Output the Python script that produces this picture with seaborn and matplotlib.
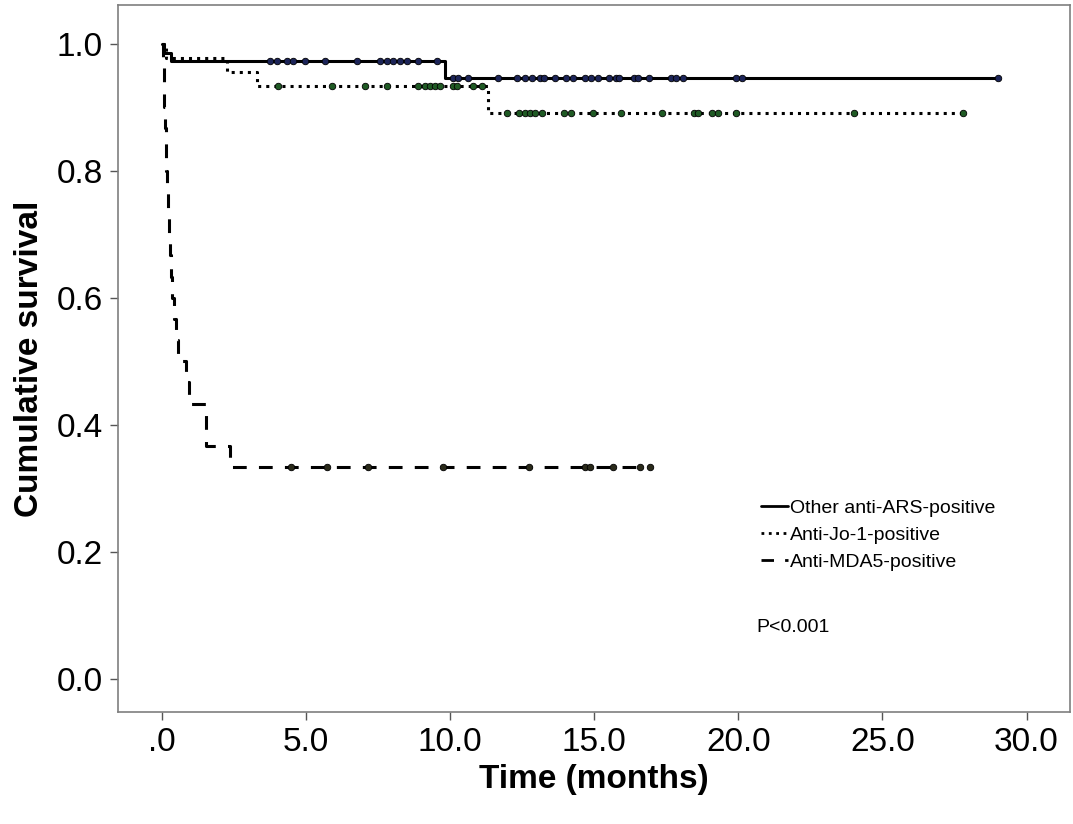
import matplotlib
matplotlib.use("Agg")
import matplotlib.pyplot as plt
from matplotlib.lines import Line2D
import numpy as np
import pandas as pd
import seaborn as sns

sns.set_style("white")
plt.rcParams['font.family'] = ['Liberation Sans', 'DejaVu Sans']
plt.rcParams['text.color'] = 'black'
plt.rcParams['axes.labelcolor'] = 'black'
plt.rcParams['xtick.color'] = 'black'
plt.rcParams['ytick.color'] = 'black'

# Kaplan-Meier steps (time in months, survival after event)
ars_times = [0.0, 0.05, 0.3, 9.8]
ars_surv = [1.0, 0.986, 0.972, 0.946]
ars_end = 29.0
ars_censor = [3.75, 4.0, 4.34, 4.55, 4.97, 5.66, 6.77, 7.57, 7.81, 8.02, 8.26, 8.51, 8.89, 9.55,
              10.1, 10.28, 10.63, 11.67, 12.33, 12.6, 12.85, 13.1, 13.26, 13.65, 14.03, 14.27,
              14.69, 14.9, 15.14, 15.52, 15.76, 15.87, 16.39, 16.5, 16.88, 17.67, 17.85, 18.06,
              19.9, 20.14, 29.0]

jo1_times = [0.0, 0.12, 2.26, 3.3, 11.3]
jo1_surv = [1.0, 0.978, 0.956, 0.933, 0.891]
jo1_end = 27.8
jo1_censor = [4.03, 5.9, 7.05, 7.81, 8.89, 9.13, 9.3, 9.48, 9.65, 10.1, 10.24, 10.8, 11.1,
              11.98, 12.4, 12.6, 12.78, 12.95, 13.2, 13.96, 14.2, 14.95, 15.94, 17.36, 18.47,
              18.6, 19.1, 19.3, 19.9, 24.0, 27.8]

mda5_times = [0.0, 0.03, 0.05, 0.08, 0.1, 0.12, 0.15, 0.18, 0.2, 0.23, 0.27, 0.3, 0.35, 0.42,
              0.48, 0.55, 0.83, 0.94, 1.53, 2.36]
mda5_surv = [1.0, 0.967, 0.933, 0.9, 0.867, 0.833, 0.8, 0.767, 0.733, 0.7, 0.667, 0.633, 0.6,
             0.567, 0.533, 0.5, 0.467, 0.433, 0.367, 0.333]
mda5_end = 16.94
mda5_censor = [4.48, 5.73, 7.15, 9.76, 12.74, 14.69, 14.86, 15.66, 16.6, 16.94]

groups = ['Other anti-ARS-positive', 'Anti-Jo-1-positive', 'Anti-MDA5-positive']
x_ticks = [0, 5, 10, 15, 20, 25, 30]
x_tick_labels = ['.0', '5.0', '10.0', '15.0', '20.0', '25.0', '30.0']
y_ticks = [0.0, 0.2, 0.4, 0.6, 0.8, 1.0]


def step_value(times, surv, t):
    i = np.searchsorted(times, t, side='right') - 1
    return np.asarray(surv)[i]


fig = plt.figure(figsize=(10.73, 8.24), dpi=100)
ax = fig.add_axes([0.11, 0.136, 0.887, 0.858])

styles = [
    (ars_times, ars_surv, ars_end, ars_censor, '-', '#1c2458'),
    (jo1_times, jo1_surv, jo1_end, jo1_censor, ':', '#1f5a24'),
    (mda5_times, mda5_surv, mda5_end, mda5_censor, (0, (4.5, 4)), '#2a2a1a'),
]

for name, (times, surv, end, cens, ls, mcol) in zip(groups, styles):
    line_df = pd.DataFrame({'time': list(times) + [end], 'surv': list(surv) + [surv[-1]]})
    sns.lineplot(data=line_df, x='time', y='surv', ax=ax, estimator=None, sort=False,
                 drawstyle='steps-post', color='black', linewidth=2.2, linestyle=ls)
    cens_df = pd.DataFrame({'time': cens, 'surv': [step_value(times, surv, t) for t in cens]})
    sns.scatterplot(data=cens_df, x='time', y='surv', ax=ax, s=22, color=mcol,
                    edgecolor='black', linewidth=0.6, zorder=3)

ax.set_xlim(-1.53, 31.5)
ax.set_ylim(-0.052, 1.061)
ax.set_xticks(x_ticks)
ax.set_xticklabels(x_tick_labels)
ax.set_yticks(y_ticks)
ax.set_yticklabels([f'{v:.1f}' for v in y_ticks])
ax.tick_params(axis='both', labelsize=24, direction='out', length=6, width=1,
               color='#555555', left=True, bottom=True, pad=5)
for sp in ax.spines.values():
    sp.set_color('#7f7f7f')
    sp.set_linewidth(1.2)

ax.set_xlabel('Time (months)', fontsize=24, fontweight='bold', labelpad=4)
ax.set_ylabel('Cumulative survival', fontsize=24, fontweight='bold', labelpad=8)

handles = [Line2D([], [], color='black', linestyle=st[4], linewidth=2) for st in styles]
ax.legend(handles, groups, loc='upper left', bbox_to_anchor=(0.665, 0.315), frameon=False,
          fontsize=14, handlelength=1.4, handletextpad=0.1, labelspacing=0.5, borderpad=0)
ax.text(0.671, 0.12, 'P<0.001', transform=ax.transAxes, fontsize=14, va='center')

fig.savefig('out.png', dpi=100)
